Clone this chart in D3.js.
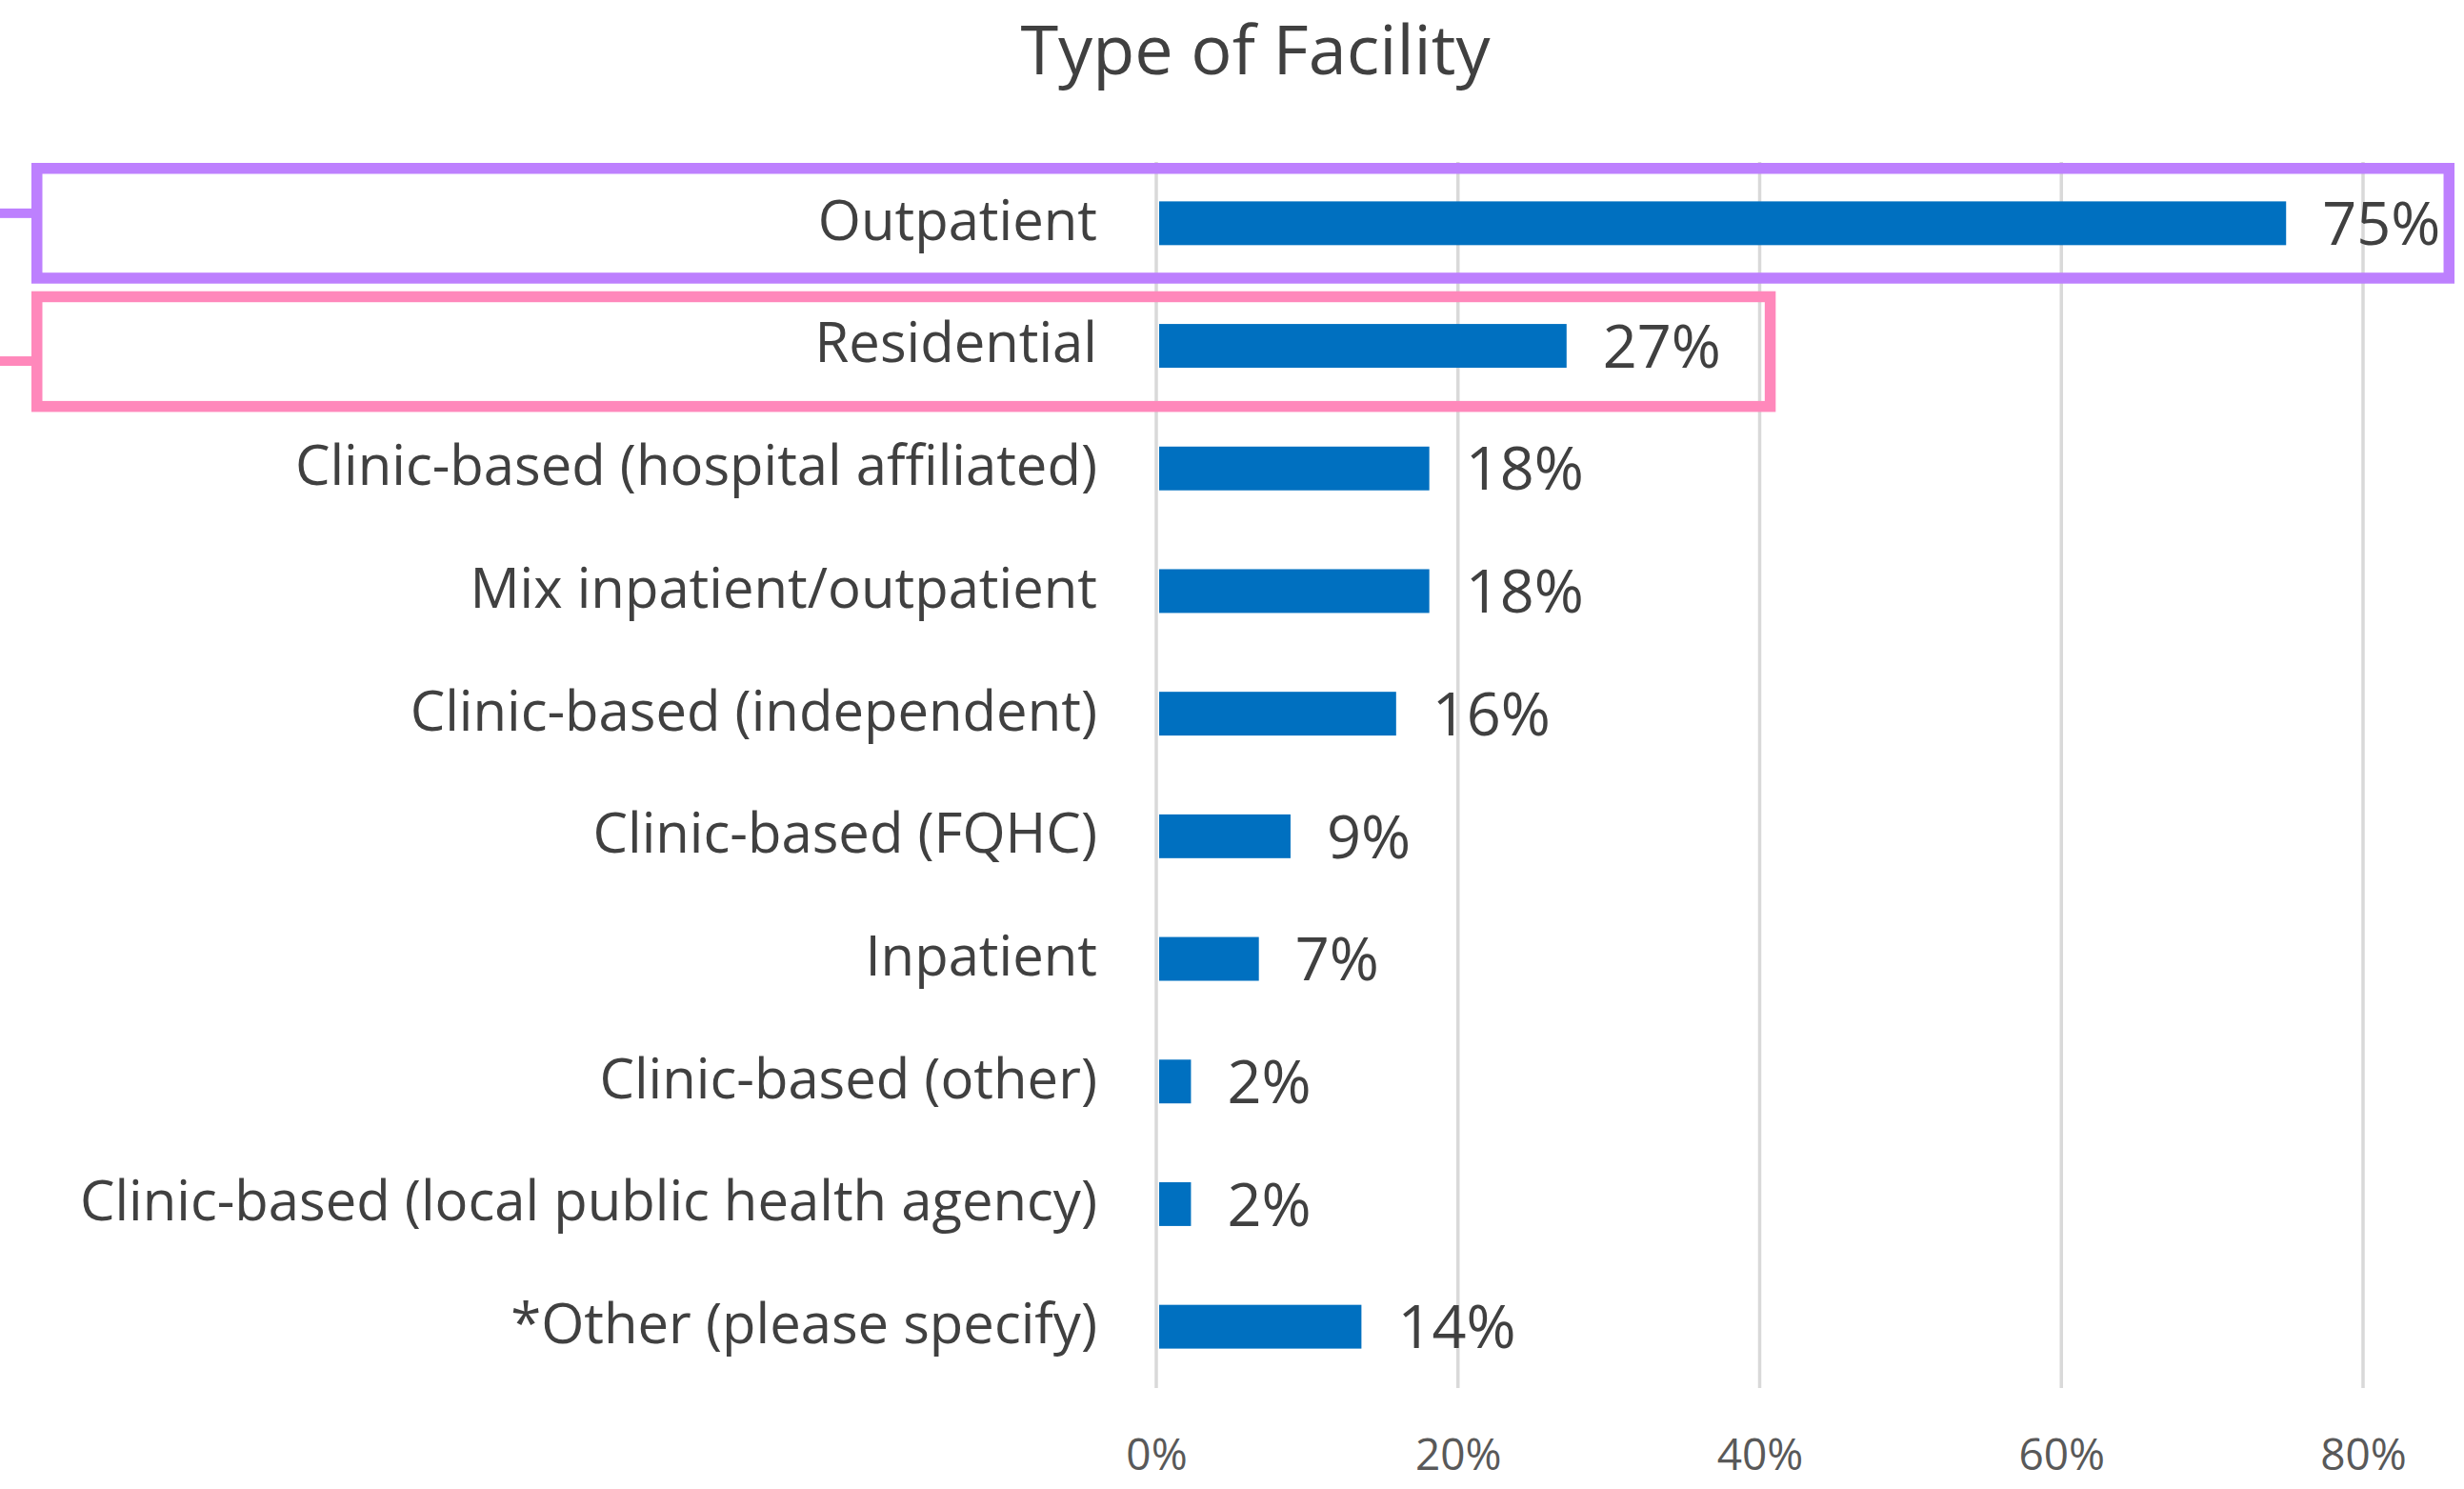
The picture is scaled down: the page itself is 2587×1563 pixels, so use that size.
<!DOCTYPE html>
<html>
<head>
<meta charset="utf-8">
<script src="https://cdn.jsdelivr.net/npm/d3@7"></script>
<style>
  html, body { margin: 0; padding: 0; background: #ffffff; }
  svg { display: block; }
  text { font-family: "Open Sans", "Noto Sans", sans-serif; }
</style>
</head>
<body>
<svg id="chart" width="2587" height="1563"></svg>
<script>
const title = "Type of Facility";
const categories = [
  "Outpatient",
  "Residential",
  "Clinic-based (hospital affiliated)",
  "Mix inpatient/outpatient",
  "Clinic-based (independent)",
  "Clinic-based (FQHC)",
  "Inpatient",
  "Clinic-based (other)",
  "Clinic-based (local public health agency)",
  "*Other (please specify)"
];
const values = [74.9, 27.2, 18.1, 18.1, 15.9, 8.9, 6.8, 2.3, 2.3, 13.6];
const tickValues = [0, 20, 40, 60, 80];
const highlightCategories = ["Outpatient", "Residential"];
const highlightExtents = [85.7, 40.7];
const highlightColors = ["#bd80fe", "#ff88bb"];

// annotation styling (pixel offsets for the hand-drawn boxes)
const boxStyle = [
  { dy: 0, stubDy: -10.5 },
  { dy: 6, stubDy: 10 }
];

const svg = d3.select("#chart");
const plot = { left: 1214, right: 2481, top: 170, bottom: 1457 };

const x = d3.scaleLinear().domain([0, 80]).range([plot.left, plot.right]);
const y = d3.scaleBand().domain(categories).range([plot.top, plot.bottom])
  .paddingInner(0.643).paddingOuter(0.3215);

// title
svg.append("text")
  .attr("x", 1318).attr("y", 78)
  .attr("text-anchor", "middle")
  .attr("font-size", 72)
  .attr("fill", "#404040")
  .text(title);

// gridlines
svg.append("g").selectAll("line").data(tickValues).join("line")
  .attr("x1", d => x(d)).attr("x2", d => x(d))
  .attr("y1", plot.top).attr("y2", plot.bottom)
  .attr("stroke", "#d9d9d9").attr("stroke-width", 3.5);

// x axis tick labels
const xAxis = d3.axisBottom(x).tickValues(tickValues).tickFormat(d => d + "%").tickSize(0).tickPadding(0);
const gx = svg.append("g").attr("transform", `translate(0, ${plot.bottom})`).call(xAxis);
gx.select(".domain").remove();
gx.selectAll("text")
  .attr("font-size", 46)
  .attr("fill", "#595959")
  .attr("dy", null)
  .attr("y", 86)
  .style("font-family", "'Open Sans', 'Noto Sans', sans-serif");

// bars
svg.append("g").selectAll("rect").data(categories).join("rect")
  .attr("x", x(0) + 3)
  .attr("y", d => y(d))
  .attr("width", (d, i) => x(values[i]) - x(0) - 3)
  .attr("height", y.bandwidth())
  .attr("fill", "#0070c0");

// category labels
const yAxis = d3.axisLeft(y).tickSize(0).tickPadding(62);
const gy = svg.append("g").attr("transform", `translate(${plot.left}, 0)`).call(yAxis);
gy.select(".domain").remove();
gy.selectAll("text")
  .attr("font-size", 58)
  .attr("fill", "#404040")
  .attr("dy", "0.3em")
  .style("font-family", "'Open Sans', 'Noto Sans', sans-serif");

// data labels
svg.append("g").selectAll("text").data(categories).join("text")
  .attr("x", (d, i) => x(values[i]) + 38)
  .attr("y", d => y(d) + y.bandwidth() / 2)
  .attr("dy", "0.36em")
  .attr("font-size", 63)
  .attr("fill", "#404040")
  .text((d, i) => Math.round(values[i]) + "%");

// highlight annotation boxes
const hl = svg.append("g");
highlightCategories.forEach((cat, i) => {
  const step = y.step();
  const sw = 11.5;
  const center = y(cat) + y.bandwidth() / 2 + boxStyle[i].dy;
  const outerH = step - 2;
  const outerTop = center - outerH / 2;
  const left = 33;
  hl.append("rect")
    .attr("x", left + sw / 2)
    .attr("y", outerTop + sw / 2)
    .attr("width", x(highlightExtents[i]) - left - sw / 2)
    .attr("height", outerH - sw)
    .attr("fill", "none")
    .attr("stroke", highlightColors[i])
    .attr("stroke-width", sw);
  hl.append("rect")
    .attr("x", 0)
    .attr("y", center + boxStyle[i].stubDy - 5)
    .attr("width", left + 1)
    .attr("height", 10)
    .attr("fill", highlightColors[i]);
});
</script>
</body>
</html>
